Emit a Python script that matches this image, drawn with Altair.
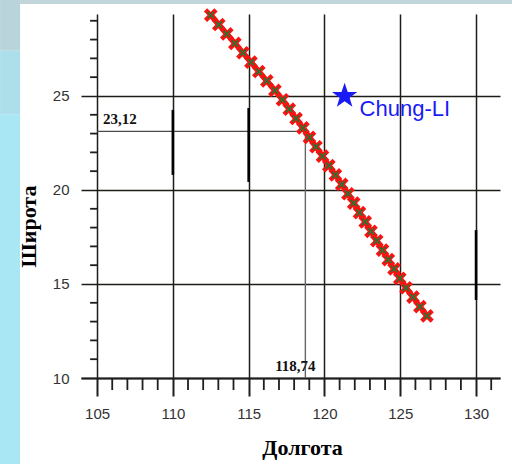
import altair as alt
import pandas as pd

# ---- data ----
curve_lat = [29.3, 28.8, 28.3, 27.8, 27.3, 26.8, 26.3, 25.8, 25.3, 24.8, 24.3,
             23.8, 23.3, 22.8, 22.3, 21.8, 21.3, 20.8, 20.3, 19.8, 19.3, 18.8,
             18.3, 17.8, 17.3, 16.8, 16.3, 15.8, 15.3, 14.8, 14.3, 13.8, 13.3]
curve_lon = [112.50, 113.03, 113.56, 114.09, 114.62, 115.15, 115.67, 116.20,
             116.73, 117.23, 117.68, 118.13, 118.58, 119.01, 119.44, 119.87,
             120.29, 120.72, 121.14, 121.55, 121.93, 122.31, 122.69, 123.07,
             123.45, 123.83, 124.21, 124.59, 124.97, 125.38, 125.84, 126.30,
             126.76]

x_major = [105, 110, 115, 120, 125, 130]
y_major = [10, 15, 20, 25]
x_minor = [v for v in range(106, 132) if v % 5 != 0]
y_minor = [v for v in range(11, 30) if v % 5 != 0]

station_name = ["Chung-LI"]
station_lon = [121.33]
station_lat = [25.0]

mark_lon = 118.74
mark_lat = 23.12

seg_lon = [110, 115, 130]
seg_lat1 = [24.26, 24.36, 17.87]
seg_lat2 = [20.80, 20.43, 14.15]

# page decoration bands (left strip / top strip), in axis units
band_lon1 = [98.60, 98.60, 98.60, 99.92]
band_lon2 = [99.92, 99.92, 99.92, 132.40]
band_lat1 = [30.11, 27.40, 24.00, 30.11]
band_lat2 = [27.40, 24.00, 5.43, 29.89]
band_col = ["#b9d4db", "#addfea", "#a8e7f3", "#c2d5db"]

# ---- scales / axes ----
xs = alt.Scale(domain=[103.94, 131.58], nice=False, zero=False)
ys = alt.Scale(domain=[10, 29.36], nice=False, zero=False)

xaxis = alt.Axis(orient="bottom", values=x_major, grid=True, gridColor="#1e1c18", gridWidth=1.5,
                 gridOpacity=1, domain=True, domainColor="#1e1e1e", domainWidth=1.8,
                 ticks=True, tickSize=18, tickColor="#1e1e1e", tickWidth=2,
                 labelFont="Liberation Sans", labelFontSize=15, labelColor="#333333",
                 labelPadding=10, labelFlush=False, labelOverlap=False,
                 title="Долгота", titleFont="Liberation Serif", titleFontSize=22,
                 titleFontWeight="bold", titleColor="black", titleX=221, titleY=76,
                 titleBaseline="alphabetic")
yaxis = alt.Axis(orient="left", values=y_major, grid=True, gridColor="#1e1c18", gridWidth=1.5,
                 gridOpacity=1, domain=False, ticks=False,
                 labelFont="Liberation Sans", labelFontSize=15, labelColor="#333333",
                 labelPadding=12, labelFlush=False, labelOverlap=False,
                 title="Широта", titleFont="Liberation Serif", titleFontSize=22,
                 titleFontWeight="bold", titleColor="black", titleX=-46, titleY=212,
                 titleAngle=270, titleBaseline="alphabetic")

XA = lambda f: alt.X(f, type="quantitative", scale=xs, axis=xaxis)
YA = lambda f: alt.Y(f, type="quantitative", scale=ys, axis=yaxis)
X = lambda f: alt.X(f, type="quantitative", scale=xs)
Y = lambda f: alt.Y(f, type="quantitative", scale=ys)

curve = pd.DataFrame({"lon": curve_lon, "lat": curve_lat})
stations = pd.DataFrame({"name": station_name, "lon": station_lon, "lat": station_lat})
segs = pd.DataFrame({"lon": seg_lon, "lat": seg_lat1, "lat2": seg_lat2})
xmin_df = pd.DataFrame({"lon": x_minor, "lat": [10] * len(x_minor),
                        "lat2": [9.36] * len(x_minor)})
ymin_df = pd.DataFrame({"lat": y_minor, "lon": [104.54] * len(y_minor),
                        "lon2": [105] * len(y_minor)})
hline = pd.DataFrame({"lon": [105], "lon2": [mark_lon], "lat": [mark_lat]})
vline = pd.DataFrame({"lon": [mark_lon], "lat": [mark_lat + 0.18], "lat2": [10]})
lab_y = pd.DataFrame({"lon": [105], "lat": [mark_lat],
                      "t": [f"{mark_lat:.2f}".replace(".", ",")]})
lab_x = pd.DataFrame({"lon": [mark_lon], "lat": [10],
                      "t": [f"{mark_lon:.2f}".replace(".", ",")]})
bands = pd.DataFrame({"lon": band_lon1, "lon2": band_lon2, "lat": band_lat1,
                      "lat2": band_lat2, "c": band_col})

# ---- symbol shapes (unit box -1..1) ----
xshape = "M-1,-1L1,1M-1,1L1,-1"
starshape = ("M0,-1L0.235,-0.309L0.951,-0.309L0.38,0.125L0.588,0.809L0,0.4"
             "L-0.588,0.809L-0.38,0.125L-0.951,-0.309L-0.235,-0.309Z")

# ---- layers ----
red_line = alt.Chart(curve).mark_line(color="#ff1010", strokeWidth=5.5).encode(
    x=XA("lon"), y=YA("lat"), order=alt.Order("lat", sort="descending"))
strips = alt.Chart(bands).mark_rect(strokeWidth=0, clip=False).encode(
    x=X("lon"), x2="lon2", y=Y("lat"), y2="lat2",
    fill=alt.Fill("c:N", scale=None))
red_x = alt.Chart(curve).mark_point(shape=xshape, size=110, strokeWidth=4.5,
                                    color="#ff1010", filled=False, opacity=1).encode(
    x=X("lon"), y=Y("lat"))
green_x = alt.Chart(curve).mark_point(shape=xshape, size=42, strokeWidth=1.8,
                                      color="#2f7030", filled=False, opacity=1).encode(
    x=X("lon"), y=Y("lat"))

ref_h = alt.Chart(hline).mark_rule(color="#4a4a4a", strokeWidth=1.2).encode(
    x=X("lon"), x2="lon2", y=Y("lat"))
ref_v = alt.Chart(vline).mark_rule(color="#666666", strokeWidth=1.4).encode(
    x=X("lon"), y=Y("lat"), y2="lat2")
thick = alt.Chart(segs).mark_rule(color="black", strokeWidth=2.6).encode(
    x=X("lon"), y=Y("lat"), y2="lat2")
xminor = alt.Chart(xmin_df).mark_rule(color="#1e1e1e", strokeWidth=1.8).encode(
    x=X("lon"), y=Y("lat"), y2="lat2")
yminor = alt.Chart(ymin_df).mark_rule(color="#1e1e1e", strokeWidth=1.8).encode(
    y=Y("lat"), x=X("lon"), x2="lon2")

star = alt.Chart(stations).mark_point(shape=starshape, filled=True, size=700,
                                      color="#1a1af5", opacity=1, strokeWidth=0).encode(
    x=X("lon"), y=Y("lat"))
star_text = alt.Chart(stations).mark_text(align="left", baseline="alphabetic", dx=15, dy=20,
                                          font="Liberation Sans", fontSize=22,
                                          color="#1a1af5").encode(
    x=X("lon"), y=Y("lat"), text="name:N")

txt_y = alt.Chart(lab_y).mark_text(align="left", baseline="alphabetic", dx=6, dy=-7,
                                   font="Liberation Serif", fontSize=15,
                                   fontWeight="bold", color="#111111").encode(
    x=X("lon"), y=Y("lat"), text="t:N")
txt_x = alt.Chart(lab_x).mark_text(align="center", baseline="alphabetic", dx=-10, dy=-7,
                                   font="Liberation Serif", fontSize=15,
                                   fontWeight="bold", color="#111111").encode(
    x=X("lon"), y=Y("lat"), text="t:N")

chart = alt.layer(
    red_line, strips, ref_h, ref_v, thick, xminor, yminor,
    red_x, green_x, star, star_text, txt_y, txt_x
).properties(
    width=419, height=364,
    padding={"left": 81, "top": 14, "right": 12, "bottom": 86},
    autosize=alt.AutoSizeParams(type="none"),
    background="white",
).configure_view(stroke=None)

chart.save("out.html", embed_options={"renderer": "svg", "actions": False})
